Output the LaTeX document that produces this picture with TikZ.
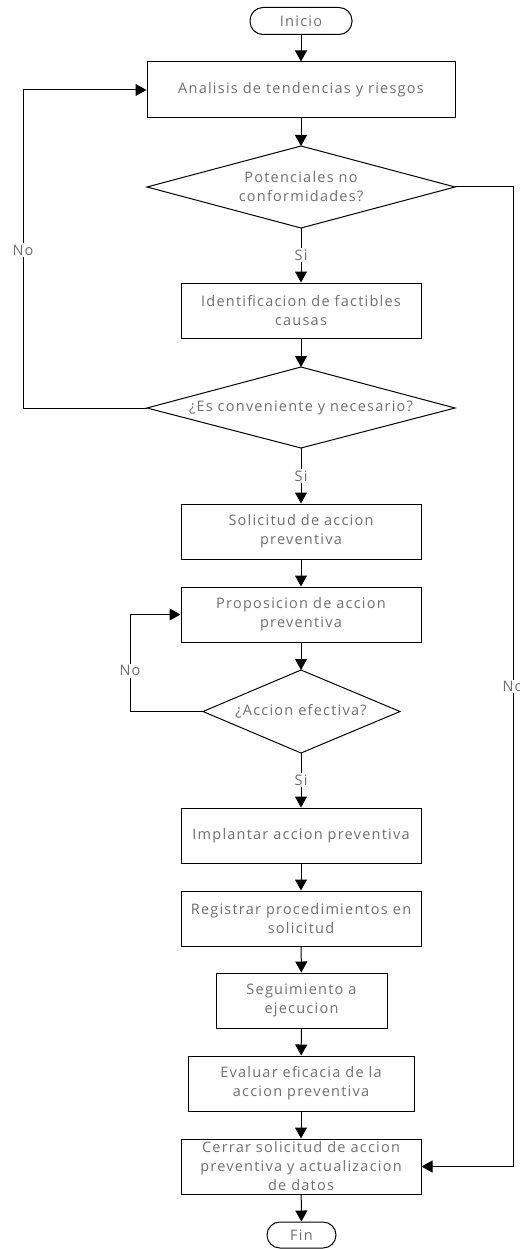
\documentclass[tikz,border=0pt]{standalone}
\usepackage{fontspec}
\setmainfont{Open Sans}[LetterSpace=8.5]
\usetikzlibrary{arrows.meta}
\definecolor{txtgray}{HTML}{6E6E6E}

\begin{document}
\begin{tikzpicture}[x=1pt,y=-1pt,
  every node/.style={text=txtgray, font=\fontsize{14.5}{19}\selectfont},
  line/.style={draw=black, line width=1pt},
  flow/.style={line, -{Triangle[length=11pt,width=12pt]}},
  procbox/.style={draw=black, line width=1pt, inner sep=0pt, align=center,
                  minimum width=240pt, minimum height=55pt},
  termbox/.style={draw=black, line width=1pt, inner sep=0pt, rounded corners=13pt,
                  minimum height=27pt},
  lbl/.style={fill=white, inner sep=1.5pt}
]
\useasboundingbox (0,0) rectangle (519,1249);

% terminals
\node[termbox, minimum width=102pt] (inicio) at (301,21) {Inicio};
\node[termbox, minimum width=69pt, minimum height=26pt] (fin) at (301.5,1235) {Fin};

% process boxes
\node[procbox, minimum width=308pt, minimum height=56pt] (analisis) at (301,90) {Analisis de tendencias y riesgos};
\node[procbox] (ident) at (301,310.5) {Identificacion de factibles\\causas};
\node[procbox] (solic) at (301,531.5) {Solicitud de accion\\preventiva};
\node[procbox] (propos) at (301,614.5) {Proposicion de accion\\preventiva};
\node[procbox] (implan) at (301,835.5) {Implantar accion preventiva};
\node[procbox] (regis) at (301,918.5) {Registrar procedimientos en\\solicitud};
\node[procbox, minimum width=171pt] (segui) at (301.5,1000.5) {Seguimiento a\\ejecucion};
\node[procbox, minimum width=226pt] (evalua) at (301,1083.5) {Evaluar eficacia de la\\accion preventiva};
\node[procbox] (cerrar) at (301,1166.5) {Cerrar solicitud de accion\\preventiva y actualizacion\\de datos};

% decision diamonds: corner points and centred text
\coordinate (d1t) at (301,146); \coordinate (d1b) at (301,228);
\coordinate (d1l) at (147,187); \coordinate (d1r) at (455,187);
\draw[line] (d1t) -- (d1r) -- (d1b) -- (d1l) -- cycle;
\node[align=center, inner sep=0pt] (d1) at (301,187) {Potenciales no\\conformidades?};

\coordinate (d2t) at (301,367); \coordinate (d2b) at (301,448);
\coordinate (d2l) at (147,408); \coordinate (d2r) at (455,408);
\draw[line] (d2t) -- (d2r) -- (d2b) -- (d2l) -- cycle;
\node[inner sep=0pt] (d2) at (301,408) {¿Es conveniente y necesario?};

\coordinate (d3t) at (301,670); \coordinate (d3b) at (301,753);
\coordinate (d3l) at (203,711.5); \coordinate (d3r) at (400,711.5);
\draw[line] (d3t) -- (d3r) -- (d3b) -- (d3l) -- cycle;
\node[inner sep=0pt] (d3) at (301,711.5) {¿Accion efectiva?};

% main flow
\draw[flow] (inicio) -- (analisis);
\draw[flow] (analisis) -- (d1t);
\draw[flow] (d1b) -- node[lbl] {Si} (ident);
\draw[flow] (ident) -- (d2t);
\draw[flow] (d2b) -- node[lbl] {Si} (solic);
\draw[flow] (solic) -- (propos);
\draw[flow] (propos) -- (d3t);
\draw[flow] (d3b) -- node[lbl] {Si} (implan);
\draw[flow] (implan) -- (regis);
\draw[flow] (regis) -- (segui);
\draw[flow] (segui) -- (evalua);
\draw[flow] (evalua) -- (cerrar);
\draw[flow] (cerrar) -- (fin);

% return and bypass branches
\coordinate (c1a) at (23,408); \coordinate (c1b) at (23,90);
\draw[flow] (d2l) -- (c1a) -- node[lbl, pos=0.497] {No} (c1b) -- (analisis.west);

\coordinate (c2a) at (130,711.5); \coordinate (c2b) at (130,614.5);
\draw[flow] (d3l) -- (c2a) -- node[lbl, pos=0.42] {No} (c2b) -- (propos.west);

\coordinate (c3a) at (513,187); \coordinate (c3b) at (513,1166.5);
\draw[flow] (d1r) -- (c3a) -- node[lbl, pos=0.51] {No} (c3b) -- (cerrar.east);
\end{tikzpicture}
\end{document}
